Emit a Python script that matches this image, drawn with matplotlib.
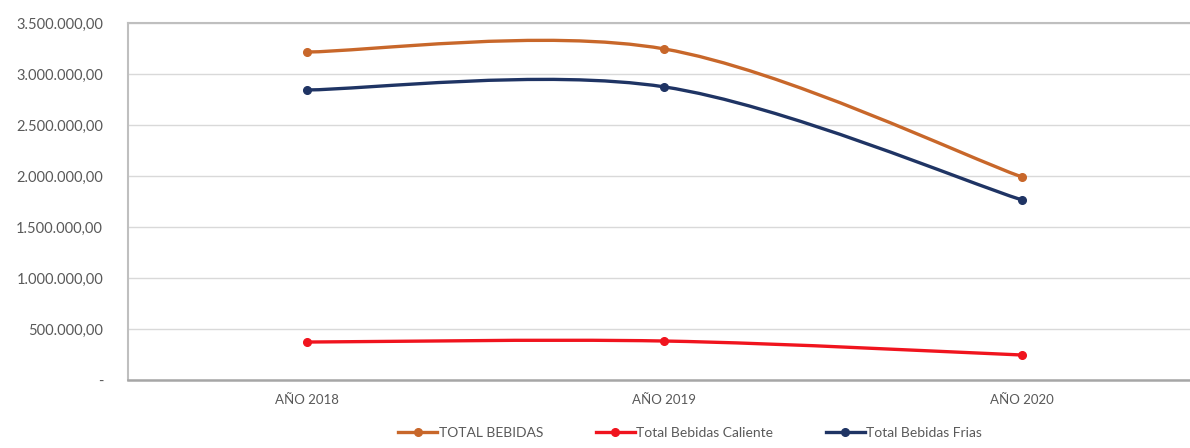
import numpy as np
import matplotlib.pyplot as plt
from matplotlib.path import Path
from matplotlib.patches import PathPatch
from matplotlib.lines import Line2D
from matplotlib.ticker import FuncFormatter

plt.rcParams['font.family'] = ['Lato', 'DejaVu Sans']

anios = ['AÑO 2018', 'AÑO 2019', 'AÑO 2020']
total_bebidas = [3215000, 3245000, 1990000]
bebidas_caliente = [372000, 382000, 245000]
bebidas_frias = [2843000, 2873000, 1765000]

series = [
    ('TOTAL BEBIDAS', total_bebidas, '#C8672A'),
    ('Total Bebidas Caliente', bebidas_caliente, '#F0141E'),
    ('Total Bebidas Frias', bebidas_frias, '#1F3464'),
]


# curva suavizada tipo Excel (Catmull-Rom -> Bezier)
def smooth_path(x, y):
    pts = np.column_stack([x, y]).astype(float)
    n = len(pts)
    verts = [pts[0]]
    codes = [Path.MOVETO]
    for i in range(n - 1):
        p0 = pts[i - 1] if i > 0 else pts[i]
        p1 = pts[i]
        p2 = pts[i + 1]
        p3 = pts[i + 2] if i + 2 < n else pts[i + 1]
        c1 = p1 + (p2 - p0) / 6
        c2 = p2 - (p3 - p1) / 6
        verts += [c1, c2, p2]
        codes += [Path.CURVE4] * 3
    return Path(verts, codes)


fig = plt.figure(figsize=(11.9, 4.48), dpi=100)
ax = fig.add_axes([0.1076, 0.1518, 0.8924, 0.797])

x = np.arange(len(anios))
handles = []
for nombre, vals, color in series:
    patch = PathPatch(smooth_path(x, vals), facecolor='none', edgecolor=color,
                      lw=2.4, capstyle='round', zorder=3)
    ax.add_patch(patch)
    ax.plot(x, vals, 'o', color=color, markersize=5.5, zorder=4)
    handles.append(Line2D([0], [0], color=color, lw=2.4, marker='o',
                          markersize=5.5, label=nombre))

ax.set_xlim(-0.5, 2.47)
ax.set_ylim(0, 3500000)
ax.set_yticks(np.arange(0, 3500001, 500000))
ax.set_xticks(x)
ax.set_xticklabels(anios)


def fmt(v, pos):
    if v == 0:
        return '-'
    return f'{v:,.2f}'.replace(',', 'X').replace('.', ',').replace('X', '.')


ax.yaxis.set_major_formatter(FuncFormatter(fmt))
ax.grid(axis='y', color='#d9d9d9', lw=1)
ax.set_axisbelow(True)
ax.tick_params(length=0, colors='#595959')
ax.tick_params(axis='y', labelsize=10.5, pad=18)
ax.tick_params(axis='x', labelsize=9.5, pad=10)
for s in ['left', 'top']:
    ax.spines[s].set_color('#bfbfbf')
    ax.spines[s].set_linewidth(1.5)
ax.spines['bottom'].set_color('#a6a6a6')
ax.spines['bottom'].set_linewidth(1.8)
ax.spines['right'].set_visible(False)

fig.legend(handles=handles, loc='center', bbox_to_anchor=(0.58, 0.034), ncol=3,
           frameon=False, fontsize=10, handlelength=2.8, handletextpad=0.1,
           columnspacing=3.8, labelcolor='#595959')

fig.savefig('out.png', dpi=100)
